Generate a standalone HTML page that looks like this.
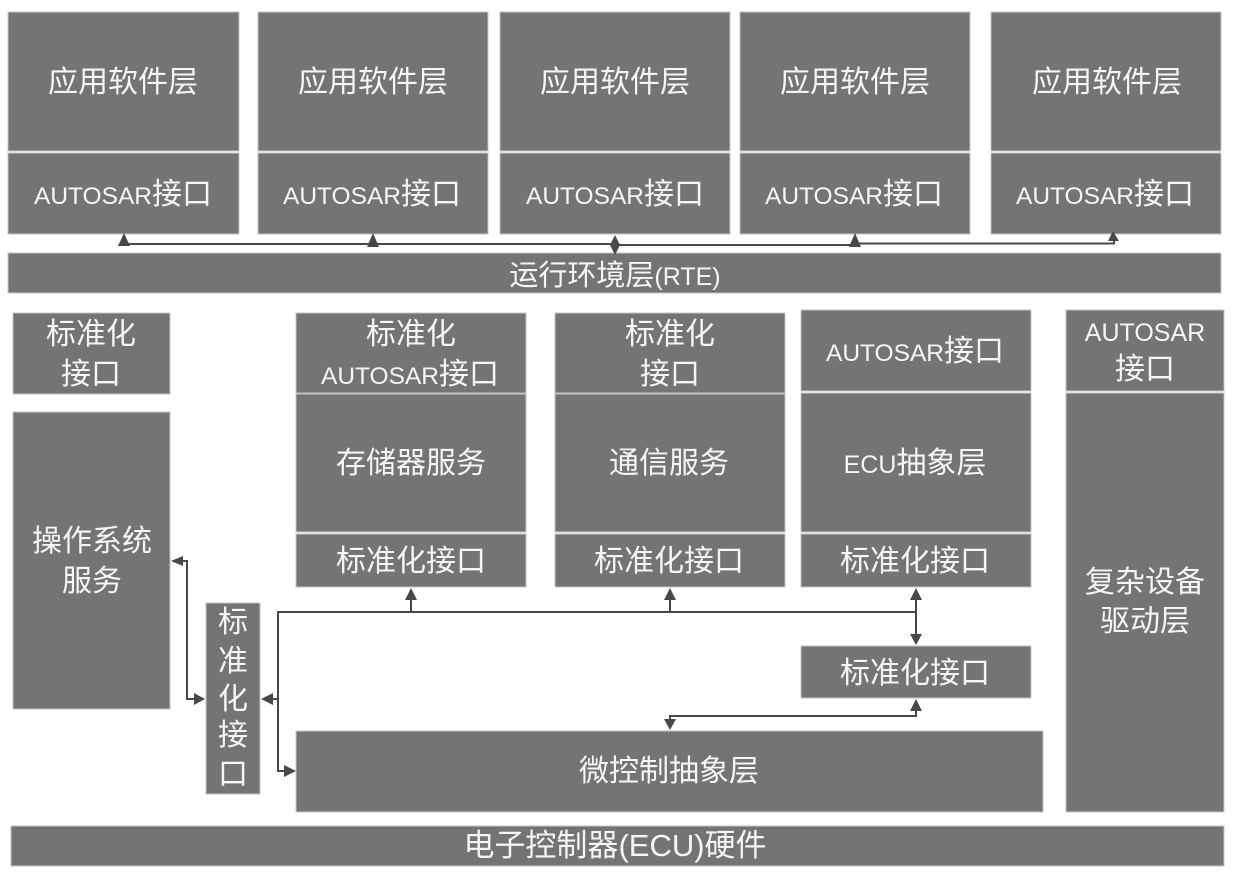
<!DOCTYPE html>
<html lang="zh">
<head>
<meta charset="utf-8">
<style>
html,body{margin:0;padding:0;background:#fff}
svg{display:block}
rect{fill:#747474;stroke:#c4c4c4;stroke-width:1}
text{fill:#f6f6f6;font-family:"Liberation Sans","Noto Sans CJK SC",sans-serif;font-size:30px;text-anchor:middle;dominant-baseline:auto}
tspan.l{font-size:24.5px}
path.c{fill:none;stroke:#484848;stroke-width:2}
path.a{fill:#484848;stroke:none}
</style>
</head>
<body>
<svg width="1244" height="879" viewBox="0 0 1244 879" xmlns="http://www.w3.org/2000/svg">
<!-- top -->
<rect x="8" y="12" width="231" height="139"/><rect x="8" y="153" width="231" height="81"/>
<rect x="258" y="12" width="230" height="139"/><rect x="258" y="153" width="230" height="81"/>
<rect x="500" y="12" width="230" height="139"/><rect x="500" y="153" width="230" height="81"/>
<rect x="740" y="12" width="230" height="139"/><rect x="740" y="153" width="230" height="81"/>
<rect x="991" y="12" width="230" height="139"/><rect x="991" y="153" width="230" height="81"/>
<rect x="8" y="253" width="1213" height="40"/>
<!-- middle -->
<rect x="13" y="313" width="157" height="81"/>
<rect x="13" y="412" width="157" height="297"/>
<rect x="296" y="313" width="230" height="80"/><rect x="296" y="394" width="230" height="138"/><rect x="296" y="534" width="230" height="53"/>
<rect x="555" y="313" width="230" height="80"/><rect x="555" y="394" width="230" height="138"/><rect x="555" y="534" width="230" height="53"/>
<rect x="801" y="310" width="230" height="81"/><rect x="801" y="393" width="230" height="139"/><rect x="801" y="534" width="230" height="53"/>
<rect x="1066" y="310" width="158" height="81"/><rect x="1066" y="393" width="158" height="419"/>
<rect x="206" y="603" width="54" height="191"/>
<rect x="801" y="646" width="230" height="52"/>
<rect x="296" y="731" width="747" height="81"/>
<rect x="11" y="826" width="1213" height="40"/>

<!-- connectors -->
<path class="c" d="M124 244H615"/>
<path class="c" d="M615 245H855"/>
<path class="c" d="M855 243.500H1114V240"/>
<path class="c" d="M615 240V252"/>
<path class="a" d="M124 233L130 246H118Z"/>
<path class="a" d="M373 233L379 247H367Z"/>
<path class="a" d="M615 235L620 245L615 255L610 245Z"/>
<path class="a" d="M855 233L861 247H849Z"/>
<path class="a" d="M1113 231L1119 241H1108Z"/>

<path class="c" d="M175 561H187V699H201"/>
<path class="a" d="M171 561L183 556V566Z"/>
<path class="a" d="M205 699L194 693V705Z"/>

<path class="c" d="M265 699H278"/>
<path class="c" d="M278 699V612H916"/>
<path class="c" d="M278 699V771H292"/>
<path class="a" d="M261 699L273 693V705Z"/>
<path class="a" d="M296 771L284 765V777Z"/>
<path class="c" d="M411 612V592"/>
<path class="a" d="M411 588L417 600H405Z"/>
<path class="c" d="M670 612V592"/>
<path class="a" d="M670 588L676 600H664Z"/>
<path class="c" d="M916 592V642"/>
<path class="a" d="M916 588L922 600H910Z"/>
<path class="a" d="M916 645L910 634H922Z"/>
<path class="c" d="M916 702V716H670V726"/>
<path class="a" d="M916 699L922 711H910Z"/>
<path class="a" d="M670 730L664 719H676Z"/>

<!-- labels -->
<text x="123" y="92">应用软件层</text>
<text x="373" y="92">应用软件层</text>
<text x="615" y="92">应用软件层</text>
<text x="855" y="92">应用软件层</text>
<text x="1107" y="92">应用软件层</text>
<text x="123" y="204"><tspan class="l">AUTOSAR</tspan>接口</text>
<text x="372" y="204"><tspan class="l">AUTOSAR</tspan>接口</text>
<text x="615" y="204"><tspan class="l">AUTOSAR</tspan>接口</text>
<text x="854" y="204"><tspan class="l">AUTOSAR</tspan>接口</text>
<text x="1105" y="204"><tspan class="l">AUTOSAR</tspan>接口</text>
<text x="615" y="285" style="font-size:29px">运行环境层<tspan style="font-size:25px">(RTE)</tspan></text>

<text x="91" y="344">标准化</text>
<text x="91" y="384">接口</text>
<text x="92" y="551">操作系统</text>
<text x="92" y="591">服务</text>

<text x="411" y="344">标准化</text>
<text x="410" y="384"><tspan class="l">AUTOSAR</tspan>接口</text>
<text x="411" y="473">存储器服务</text>
<text x="411" y="571">标准化接口</text>

<text x="670" y="344">标准化</text>
<text x="670" y="384">接口</text>
<text x="669" y="473">通信服务</text>
<text x="669" y="571">标准化接口</text>

<text x="915" y="361"><tspan class="l">AUTOSAR</tspan>接口</text>
<text x="915" y="473"><tspan style="font-size:25px">ECU</tspan>抽象层</text>
<text x="915" y="571">标准化接口</text>
<text x="915" y="683">标准化接口</text>

<text x="1145" y="341" style="font-size:25px">AUTOSAR</text>
<text x="1145" y="379">接口</text>
<text x="1145" y="592">复杂设备</text>
<text x="1145" y="631">驱动层</text>

<text x="233" y="632">标</text>
<text x="233" y="671">准</text>
<text x="233" y="709">化</text>
<text x="233" y="745">接</text>
<text x="233" y="784">口</text>

<text x="669" y="781">微控制抽象层</text>
<text x="615" y="856" style="font-size:31px">电子控制器<tspan style="font-size:31px">(ECU)</tspan>硬件</text>
</svg>
</body>
</html>
